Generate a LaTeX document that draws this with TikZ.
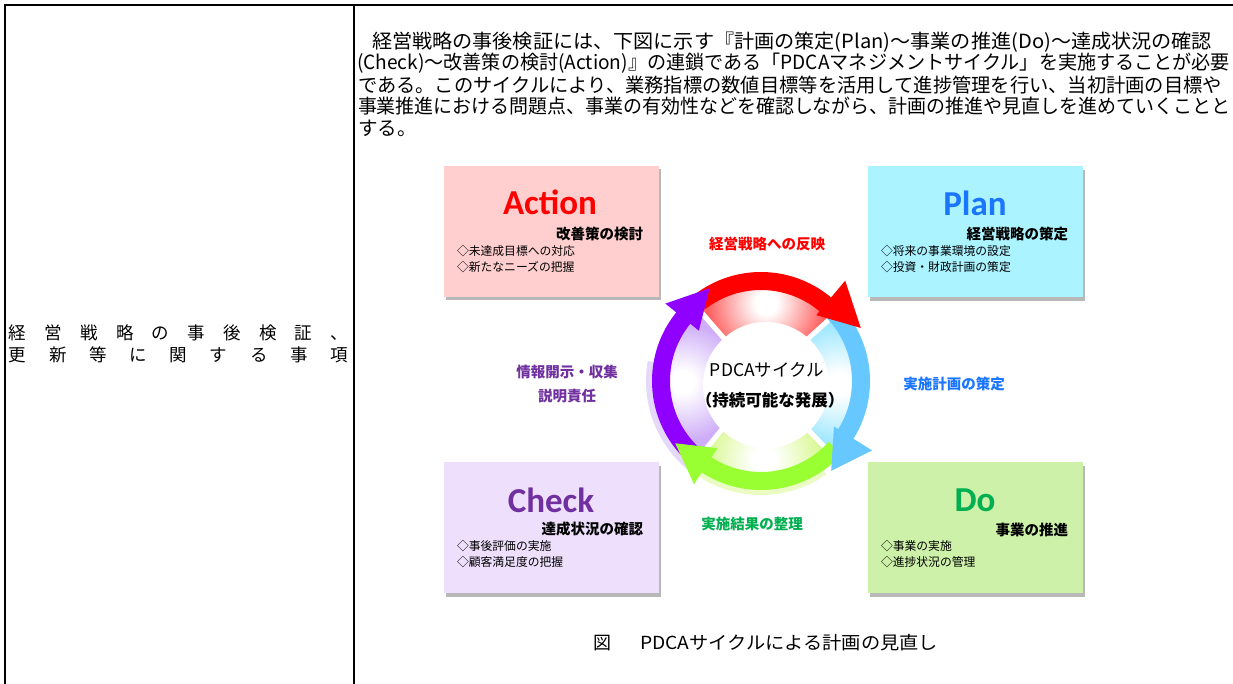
\documentclass[tikz,border=0pt]{standalone}
\usepackage{fontspec}
\setmainfont{Noto Sans CJK JP}
\newfontfamily\titlefont{Carlito}
\usepackage{graphicx}
\definecolor{actfill}{HTML}{FFCFCF}
\definecolor{planfill}{HTML}{AAF3FF}
\definecolor{checkfill}{HTML}{EEE0FC}
\definecolor{dofill}{HTML}{CDF1A9}
\definecolor{actred}{HTML}{FF0000}
\definecolor{planblue}{HTML}{1A75FF}
\definecolor{checkpurple}{HTML}{7030A0}
\definecolor{dogreen}{HTML}{00B050}
\definecolor{arrred}{HTML}{FF0000}
\definecolor{arrblue}{HTML}{66C8FF}
\definecolor{arrgreen}{HTML}{99FF33}
\definecolor{arrpurple}{HTML}{9000FF}
\definecolor{sectop}{HTML}{FF6060}
\definecolor{secright}{HTML}{A0E8FF}
\definecolor{secbottom}{HTML}{D8F890}
\definecolor{secleft}{HTML}{CEAEF8}
\definecolor{haloleft}{HTML}{E6D8FA}
\definecolor{halobottom}{HTML}{EAFCC4}
\pgfdeclareradialshading{shtop}{\pgfpoint{0bp}{0bp}}{color(0bp)=(white); color(4bp)=(white); color(21bp)=(sectop); color(50bp)=(sectop)}
\pgfdeclareradialshading{shright}{\pgfpoint{0bp}{0bp}}{color(0bp)=(white); color(4bp)=(white); color(21bp)=(secright); color(50bp)=(secright)}
\pgfdeclareradialshading{shbottom}{\pgfpoint{0bp}{0bp}}{color(0bp)=(white); color(4bp)=(white); color(21bp)=(secbottom); color(50bp)=(secbottom)}
\pgfdeclareradialshading{shleft}{\pgfpoint{0bp}{0bp}}{color(0bp)=(white); color(4bp)=(white); color(21bp)=(secleft); color(50bp)=(secleft)}
\begin{document}
\begin{tikzpicture}[x=1pt,y=-1pt,
  every node/.style={inner sep=0pt, outer sep=0pt},
  rule/.style={line width=1.8pt, black},
  card/.style={minimum width=215pt, minimum height=131pt},
  cardshadow/.style={card, fill=black!28},
  cardtitle/.style={font=\titlefont\bfseries\fontsize{35}{40}\selectfont},
  cardsub/.style={font=\bfseries\fontsize{14.5}{16}\selectfont, anchor=east},
  cardbul/.style={font=\fontsize{11.8}{13}\selectfont, anchor=west},
  lbl/.style={font=\bfseries\fontsize{14.5}{16}\selectfont},
  para/.style={font=\fontsize{19.5}{22}\selectfont, anchor=west},
  coltext/.style={font=\fontsize{17.5}{20}\selectfont, anchor=west},
  centertext/.style={font=\fontsize{17.5}{20}\selectfont},
  captext/.style={font=\fontsize{18}{20}\selectfont}
]
\useasboundingbox[fill=white] (0,0) rectangle (1233,684);

% table rules
\coordinate (tl) at (5,5);
\coordinate (tr) at (1233,5);
\coordinate (bl) at (5,684);
\coordinate (dt) at (354,5);
\coordinate (db) at (354,684);
\draw[rule] (bl) -- (tl) -- (tr);
\draw[rule] (dt) -- (db);

% left column text
\node[coltext] (lc1) at (9,333) {\makebox[339pt][l]{経\hfill 営\hfill 戦\hfill 略\hfill の\hfill 事\hfill 後\hfill 検\hfill 証\hfill 、}};
\node[coltext] (lc2) at (9,355) {\makebox[339pt][l]{更\hfill 新\hfill 等\hfill に\hfill 関\hfill す\hfill る\hfill 事\hfill 項}};

% paragraph
\node[para] (p1) at (372,42) {\resizebox{840pt}{\height}{経営戦略の事後検証には、下図に示す『計画の策定(Plan)～事業の推進(Do)～達成状況の確認}};
\node[para] (p2) at (357,63.5) {\resizebox{873pt}{\height}{(Check)～改善策の検討(Action)』の連鎖である「PDCAマネジメントサイクル」を実施することが必要}};
\node[para] (p3) at (358,85) {\resizebox{864pt}{\height}{である。このサイクルにより、業務指標の数値目標等を活用して進捗管理を行い、当初計画の目標や}};
\node[para] (p4) at (358,106.5) {\resizebox{872pt}{\height}{事業推進における問題点、事業の有効性などを確認しながら、計画の推進や見直しを進めていくことと}};
\node[para] (p5) at (358,128) {する。};

% cards
\node[cardshadow] (actsh) at (553.5,235) {};
\node[cardshadow] (plansh) at (977.5,235.5) {};
\node[cardshadow] (checksh) at (553.5,531) {};
\node[cardshadow] (dosh) at (977.5,531) {};
\node[card, fill=actfill] (act) at (551,231.5) {};
\node[card, fill=planfill] (plan) at (975,232) {};
\node[card, fill=checkfill] (check) at (551,527.5) {};
\node[card, fill=dofill] (do) at (975,527.5) {};

\node[cardtitle, text=actred] (actt) at (550,202) {Action};
\node[cardsub] (acts) at (643,234) {改善策の検討};
\node[cardbul] (actb1) at (457,251) {◇未達成目標への対応};
\node[cardbul] (actb2) at (457,267) {◇新たなニーズの把握};

\node[cardtitle, text=planblue] (plant) at (975,203) {Plan};
\node[cardsub] (plans) at (1068,234) {経営戦略の策定};
\node[cardbul] (planb1) at (881,251) {◇将来の事業環境の設定};
\node[cardbul] (planb2) at (881,267) {◇投資・財政計画の策定};

\node[cardtitle, text=checkpurple] (checkt) at (551,500) {Check};
\node[cardsub] (checks) at (643,529) {達成状況の確認};
\node[cardbul] (checkb1) at (457,546) {◇事後評価の実施};
\node[cardbul] (checkb2) at (457,562) {◇顧客満足度の把握};

\node[cardtitle, text=dogreen] (dot) at (975,500) {Do};
\node[cardsub] (dos) at (1068,530) {事業の推進};
\node[cardbul] (dob1) at (881,546) {◇事業の実施};
\node[cardbul] (dob2) at (881,562) {◇進捗状況の管理};

% cycle
\begin{scope}[shift={(761,381)}, yscale=-1]
  % halos
  \fill[haloleft] (170:115) arc[start angle=170, end angle=235, radius=115] -- (235:100) arc[start angle=235, end angle=170, radius=100] -- cycle;
  \fill[halobottom] (235:114) arc[start angle=235, end angle=305, radius=114] -- (305:100) arc[start angle=305, end angle=235, radius=100] -- cycle;
  % sectors
  \begin{scope}
    \clip (0,0) -- (42:101) arc[start angle=42, end angle=131, radius=101] -- cycle;
    \shade[shading=shtop] (5,78) circle (70);
  \end{scope}
  \begin{scope}
    \clip (0,0) -- (-46:101) arc[start angle=-46, end angle=42, radius=101] -- cycle;
    \shade[shading=shright] (78,-3) circle (70);
  \end{scope}
  \begin{scope}
    \clip (0,0) -- (231:101) arc[start angle=231, end angle=314, radius=101] -- cycle;
    \shade[shading=shbottom] (3,-78) circle (70);
  \end{scope}
  \begin{scope}
    \clip (0,0) -- (131:101) arc[start angle=131, end angle=231, radius=101] -- cycle;
    \shade[shading=shleft] (-78,-1) circle (70);
  \end{scope}
  \foreach \g in {42,131,231,314} {\draw[white, line width=5pt] (\g:55) -- (\g:118);}
  \fill[white] (5,-4) circle (63);
  % bands
  \fill[arrred] (128:109) arc[start angle=128, end angle=48, radius=109] -- (48:91) arc[start angle=48, end angle=128, radius=91] -- cycle;
  \fill[arrblue] (44:109) arc[start angle=44, end angle=-34, radius=109] -- (-34:91) arc[start angle=-34, end angle=44, radius=91] -- cycle;
  \fill[arrgreen] (-42:109) arc[start angle=-42, end angle=-125, radius=109] -- (-125:91) arc[start angle=-125, end angle=-42, radius=91] -- cycle;
  \fill[arrpurple] (-133:109) arc[start angle=-133, end angle=-221, radius=109] -- (-221:91) arc[start angle=-221, end angle=-133, radius=91] -- cycle;
  % heads
  \fill[arrred] (50:86) -- (50:131) -- (28:113) -- cycle;
  \fill[arrblue] (-32:86) -- (-32:131) -- (-52:114) -- cycle;
  \fill[arrgreen] (-123:80) -- (-123:123) -- (-144:106) -- cycle;
  \fill[arrpurple] (-219:80) -- (-219:123) -- (-241:106) -- cycle;
\end{scope}

\node[centertext] (ct1) at (767,370) {PDCAサイクル};
\node[centertext, font=\bfseries\fontsize{16.5}{18}\selectfont] (ct2) at (770,400) {（持続可能な発展）};

\node[lbl, text=actred] (l1) at (767,244) {経営戦略への反映};
\node[lbl, text=planblue] (l2) at (954,384) {実施計画の策定};
\node[lbl, text=dogreen] (l3) at (752,524) {実施結果の整理};
\node[lbl, text=checkpurple] (l4) at (567,372) {情報開示・収集};
\node[lbl, text=checkpurple] (l5) at (567,396) {説明責任};

% caption
\node[captext] (fig) at (602,643) {図};
\node[captext, anchor=west] (cap) at (640,643) {\resizebox{298pt}{\height}{PDCAサイクルによる計画の見直し}};
\end{tikzpicture}
\end{document}
